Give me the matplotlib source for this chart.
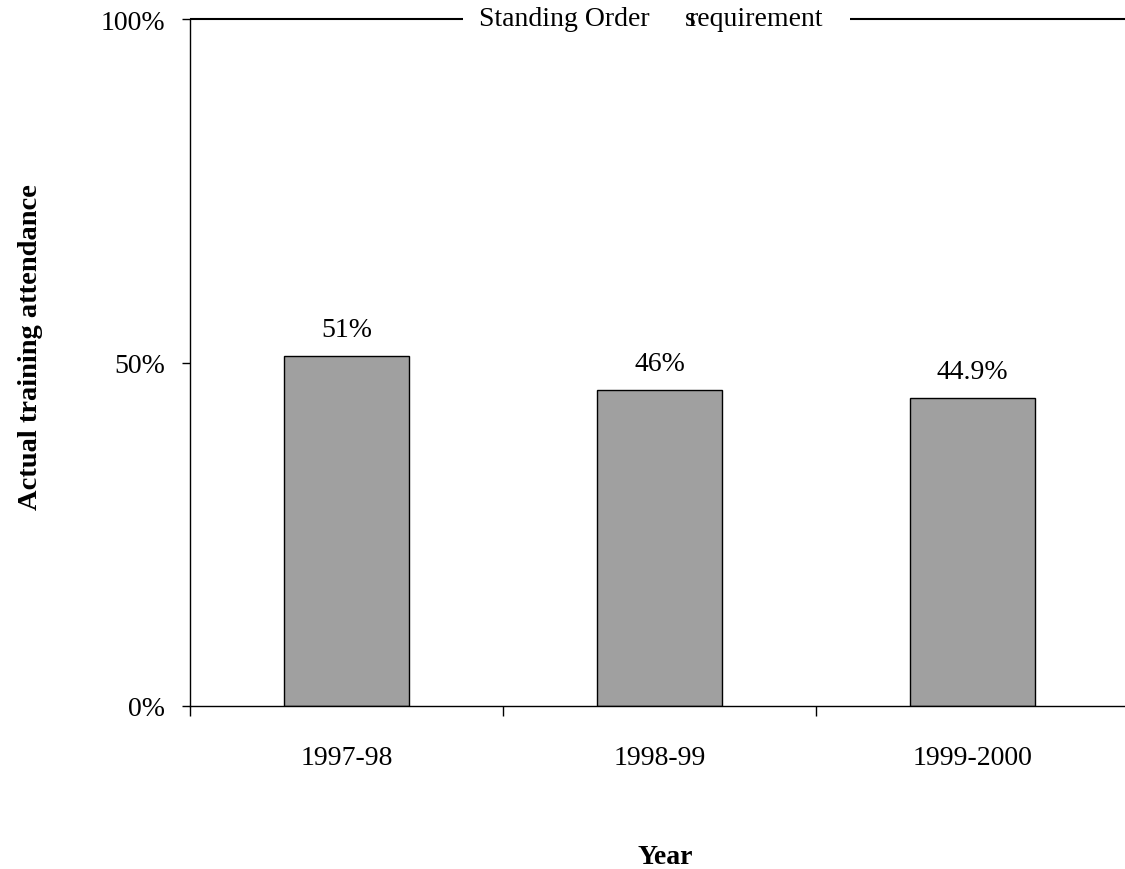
import matplotlib; matplotlib.use('Agg')
import matplotlib.pyplot as plt
from matplotlib.ticker import FixedLocator

years = ['1997-98', '1998-99', '1999-2000']
attendance = [51, 46, 44.9]
bar_labels = ['51%', '46%', '44.9%']
requirement = 100
req_words = ['Standing Order', 's', 'requirement']

plt.rcParams['font.family'] = ['Liberation Serif', 'DejaVu Serif']

fig = plt.figure(figsize=(11.25, 8.7), dpi=100)
# axes box in pixels: left 190, right 1129, bottom 707, top 20
ax = fig.add_axes([190/1125, (870-707)/870, 939/1125, 687/870])

x = range(len(years))
ax.bar(x, attendance, width=0.4, color='#a0a0a0', edgecolor='black', linewidth=1)
for xi, v, lab in zip(x, attendance, bar_labels):
    ax.annotate(lab, (xi, v), xytext=(0, 10), textcoords='offset points',
                ha='center', va='bottom', fontsize=20)

ax.set_ylim(0, 100)
ax.set_xlim(-0.5, len(years) - 0.5)

# standing order line, broken where the caption sits
ax.hlines(requirement, -0.5, 0.372, color='black', linewidth=1.5, clip_on=False)
ax.hlines(requirement, 1.609, 2.5, color='black', linewidth=1.5, clip_on=False)
ax.text(0.4233, requirement, req_words[0], ha='left', va='center', fontsize=20)
ax.text(1.0815, requirement, req_words[1], ha='left', va='center', fontsize=20)
ax.text(1.094, requirement, req_words[2], ha='left', va='center', fontsize=20)

ax.set_yticks([0, 50, 100])
ax.set_yticklabels(['0%', '50%', '100%'], fontsize=20)
ax.tick_params(axis='y', length=6, width=1, pad=12)

ax.set_xticks(list(x))
ax.set_xticklabels(years, fontsize=20)
ax.tick_params(axis='x', which='major', length=0, pad=28)
ax.xaxis.set_minor_locator(FixedLocator([-0.5, 0.5, 1.5]))
ax.tick_params(axis='x', which='minor', length=7, width=1)

for s in ['top', 'right']:
    ax.spines[s].set_visible(False)
ax.spines['left'].set_linewidth(1)
ax.spines['bottom'].set_linewidth(1)

ax.set_ylabel('Actual training attendance', fontsize=20.5, fontweight='bold')
ax.yaxis.set_label_coords(-0.1565, 0.524)
ax.set_xlabel('Year', fontsize=20, fontweight='bold')
ax.xaxis.set_label_coords(0.506, -0.201)

fig.savefig('out.png', dpi=100)
